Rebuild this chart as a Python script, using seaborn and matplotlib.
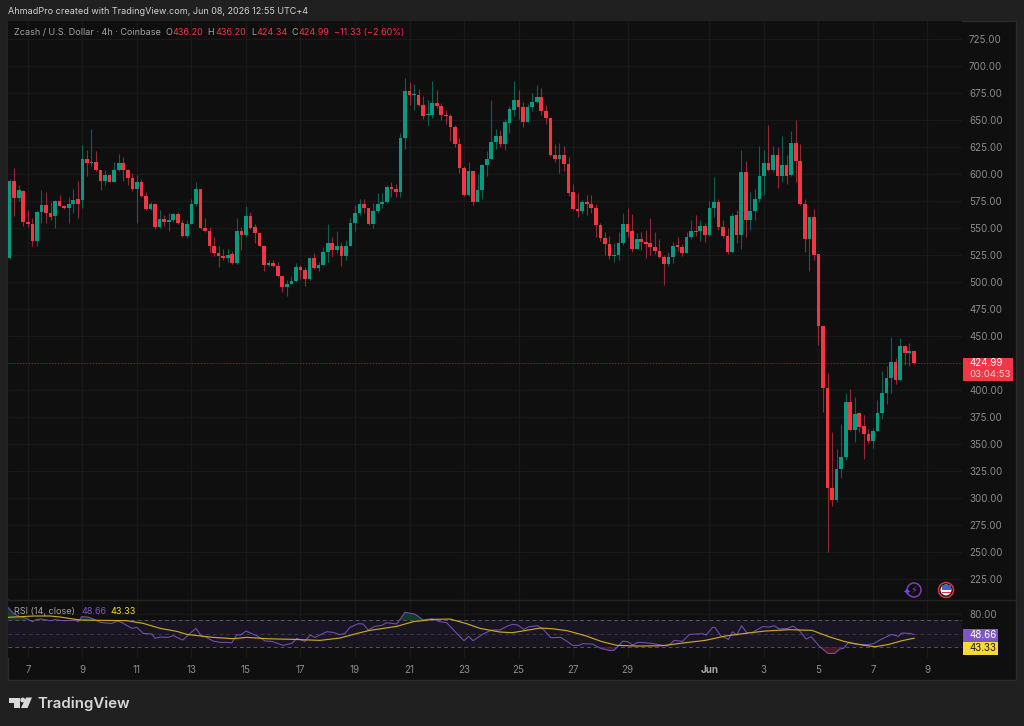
import pandas as pd
import matplotlib.pyplot as plt
from matplotlib.patches import Rectangle, Circle, Polygon
import seaborn as sns

opens = [522,594,578,584,556,554,538,565,571,564,
         561,575,570,569,572,577,576,614,610,611,
         604,594,599,593,604,610,604,596,586,593,
         580,568,572,551,558,556,557,563,555,543,
         554,572,586,550,547,533,527,524,522,526,
         518,547,544,561,551,545,533,516,518,515,
         506,495,498,501,514,511,503,522,513,516,
         528,536,530,533,524,533,555,564,572,569,
         554,566,572,574,588,586,583,633,677,673,
         673,664,655,655,666,663,655,654,644,628,
         606,581,603,574,585,608,614,630,635,628,
         647,659,669,662,648,662,667,671,658,652,
         618,614,618,609,583,568,566,574,572,569,
         553,541,535,524,525,536,554,547,531,540,
         537,536,532,529,523,517,523,534,532,527,
         542,547,547,552,544,569,574,551,543,528,
         562,544,602,557,566,577,598,610,604,618,
         598,608,599,629,612,572,540,560,526,459,
         402,309,298,327,338,389,363,379,367,359,
         353,362,379,397,411,426,409,441,434,436.2]
highs = [595,606,590,585,567,559,567,585,583,574,
         576,581,571,579,586,594,627,622,642,621,
         604,604,600,611,619,616,605,601,599,595,
         583,574,573,567,562,564,564,565,557,557,
         577,593,586,559,551,542,533,531,531,529,
         559,551,570,565,554,545,534,520,520,519,
         506,502,506,518,516,514,523,527,519,532,
         554,542,547,537,539,559,571,577,577,569,
         573,582,582,590,593,591,638,689,685,683,
         679,672,669,686,678,666,659,656,645,633,
         607,611,603,600,609,621,669,642,641,651,
         663,686,678,667,665,675,682,680,664,653,
         628,629,626,616,591,582,576,581,581,572,
         555,546,543,536,546,564,569,563,545,546,
         548,559,546,540,525,528,537,542,535,546,
         557,562,557,555,575,597,577,557,550,564,
         567,622,612,583,586,626,622,645,626,625,
         635,618,640,650,628,577,560,568,526,459,
         416,361,345,369,397,401,394,380,377,364,
         365,391,418,422,449,430,448,442,444,436.2]
lows = [521,561,575,552,551,533,533,555,555,557,
        550,570,568,555,564,559,569,598,607,603,
        585,590,593,593,603,594,590,584,555,579,
        567,567,549,550,552,547,556,554,542,541,
        554,570,549,546,528,524,514,520,519,517,
        517,530,542,549,536,533,510,515,514,505,
        491,487,498,500,503,496,502,512,510,516,
        519,523,527,515,520,533,547,562,564,553,
        550,564,569,573,579,579,579,623,664,659,
        663,651,645,652,661,650,646,631,625,601,
        580,580,571,574,577,598,614,623,625,622,
        638,654,651,644,648,658,666,655,646,617,
        611,601,603,580,567,560,563,562,564,542,
        538,525,521,519,520,534,542,528,531,530,
        522,525,526,522,497,515,518,529,524,527,
        540,543,538,537,543,560,548,541,526,527,
        536,531,542,548,557,574,581,603,602,587,
        593,591,598,593,571,528,510,520,442,380,
        250,293,296,319,335,362,352,361,336,351,
        346,362,373,387,397,406,408,423,422,424.34]
closes = [594,578,585,556,554,538,565,571,564,560,
          575,570,569,572,576,572,614,610,611,604,
          594,599,593,604,610,604,596,586,593,580,
          568,572,551,558,556,557,563,555,543,554,
          572,586,550,547,533,527,524,522,525,518,
          547,544,561,550,545,533,516,518,515,506,
          495,498,501,514,511,503,522,513,516,528,
          536,530,533,524,533,555,564,572,569,554,
          566,572,574,588,586,583,633,677,673,674,
          664,654,655,666,663,655,654,644,628,606,
          581,603,574,585,608,614,630,635,628,648,
          660,669,662,648,662,667,671,658,652,618,
          614,618,609,582,568,566,574,572,569,553,
          541,535,524,525,536,554,546,531,540,537,
          535,532,529,523,517,523,533,532,527,542,
          547,546,552,544,569,574,551,543,528,561,
          544,602,557,566,577,598,610,604,618,598,
          608,598,629,612,572,540,560,525,459,402,
          309,298,327,338,389,363,378,366,359,353,
          362,379,397,411,426,409,441,434,436,424.99]

rsi_bar = [-0.5,0.8,2.3,3.7,5,5.9,7,8.9,10,11.8,14.4,15.1,15.8,17.3,18.4,19.9,21.3,22.5,23.9,25,
           26.9,28,29.4,31.3,32,33.1,34.9,36,38.1,39.7,41,42.3,43,44.8,46.3,47.8,48.9,50,50.8,52,
           54.4,56.2,57.7,60.2,62.1,63.2,65,66.1,67.2,69.8,71.2,72.7,73.8,74.9,76.7,77.8,78.9,80.4,81.9,83,
           85.2,87,89.2,91,92.9,94.7,96.2,98.4,100,101,102,104.3,106.1,107.9,109.4,110.6,111.8,113.2,114.3,116.2,
           117.6,119.1,121.3,122.8,123.9,125.3,126.1,128.3,130.1,131.9,133,135,136,137.2,138.2,140,142.2,144.8,146.3,148.1,
           149.6,152.5,153.3,154.7,155.2,156.5,158.2,159.1,160,161.1,162.2,163.5,165.7,167.2,168.3,169.4,171.3,172.4,173.9,175.3,
           176.4,178.3,180.1,181.6,182.7,183.5,184.6,186,188.6,190.1,191.5,193,194.1,195.6,196.3,198.2,199]
rsi_val = [90.5,80.5,75.5,73,68,71.5,72,69.5,71,69.5,70,68,75.5,75,72,67,66,65.5,69,65.5,
           58,59.5,50.5,49.5,43,45,44.5,47,40.5,50.5,58,45.5,45.5,39,37,37,36.5,48.5,48,54,
           47,39,38.5,32.5,35.5,43,38.5,48,44.5,53,52,48.5,50.5,59.5,65,64.5,55.5,61,62.5,66.5,
           64.5,82,79.5,70.5,72.5,68,66.5,50.5,39.5,46,39.5,50,55.5,55.5,61,64,63,56.5,60.5,62,
           55.5,44,44.5,38,32.5,32.5,35,34.5,28,25,25,39,38,33,37,36.5,34.5,31.5,40,38.5,
           49,50,48,59.5,59.5,47,41.5,53,48,62,51.5,52,60.5,60,62,57,58,61.5,54,42,
           45.5,30.5,20.5,20.5,27,28,36.5,34.5,33.5,35,40.5,45.5,49,46,51,50.5,48.66]
sma_bar = [-0.5,5.2,8.9,11.1,15.5,19.9,25.8,29.4,33.1,36.8,39,44.8,49.2,52.2,56.6,62.4,68.3,72.7,77.1,79.3,
           85.2,88.8,93.3,96.9,100.6,103.5,107.9,110.6,114.2,116.8,119.4,122.7,126.7,130.4,133.7,138.4,143.6,148.7,153.1,157.5,
           161.9,166.3,171.5,176.6,180.3,183.9,187.6,190.5,193.5,196.4,199.1]
sma_val = [74.5,76.5,76.5,75,70.5,70,69.5,65.5,58,53.5,49,44.5,42.5,44.5,42.5,41.5,40,43.5,51.5,55,
           61,68,71.5,72,65,58,52.5,51.5,55.5,58.5,57.5,54.5,47,38,32.5,31.5,32,36.5,40,46.5,
           50.5,54,56,55,45.5,38,33,30.5,34,39.5,43.33]

price_ticks = list(range(225, 750, 25))
day_bars = [4,16,28,40,52,64,76,88,100,112,124,136,154,166,178,190,202]
day_labels = ['7','9','11','13','15','17','19','21','23','25','27','29','Jun','3','5','7','9']

BG = '#0f0f0f'
OUTER = '#202020'
GRID = '#191919'
UP = '#089981'
DOWN = '#f23645'
TXT = '#8c8c8c'
W, H = 1024, 726

sns.set_theme(style='dark', rc={'figure.facecolor': OUTER, 'axes.facecolor': BG})
plt.rcParams['font.family'] = ['Inter', 'DejaVu Sans']

df = pd.DataFrame({'open': opens, 'high': highs, 'low': lows, 'close': closes})
df['bar'] = df.index
df['up'] = df['close'] >= df['open']
df['base'] = df[['open', 'close']].min(axis=1)
df['body'] = (df['close'] - df['open']).abs().clip(lower=1.0)
df['color'] = df['up'].map({True: UP, False: DOWN})

fig = plt.figure(figsize=(W / 100, H / 100), dpi=100)


def px_axes(left, top, right, bottom):
    return fig.add_axes([left / W, 1 - bottom / H, (right - left) / W, (bottom - top) / H])


# frame behind everything, pixel coordinates
bg = fig.add_axes([0, 0, 1, 1], zorder=0)
bg.set_xlim(0, W)
bg.set_ylim(H, 0)
bg.axis('off')
bg.add_patch(Rectangle((7.5, 20.5), 1008.5, 659.5, fc=BG, ec='#2b2b2b', lw=1))

ax = px_axes(8, 21, 962, 599)
rsi = px_axes(8, 600, 962, 658)
for a in (ax, rsi):
    a.set_zorder(1)
    a.set_xlim(-0.37, 209.6)
    a.set_xticks(day_bars)
    a.grid(True, axis='x', color=GRID, lw=1)
    a.set_axisbelow(True)
    for s in a.spines.values():
        s.set_visible(False)
    a.tick_params(length=0)

# price pane
ax.set_ylim(206.5, 741.7)
ax.set_yticks(price_ticks)
ax.set_yticklabels([f'{p:.2f}' for p in price_ticks], color=TXT, fontsize=7.0)
ax.yaxis.tick_right()
ax.tick_params(axis='y', pad=5)
ax.tick_params(axis='x', labelbottom=False)
ax.grid(True, axis='y', color=GRID, lw=1)
ax.axhline(424.99, color=DOWN, lw=0.7, ls=(0, (1, 2)), alpha=0.5, zorder=1)
ax.vlines(df['bar'], df['low'], df['high'], colors=df['color'], lw=0.8, alpha=0.6, zorder=2)
ax.bar(df['bar'], df['body'], bottom=df['base'], width=0.8, color=df['color'], lw=0, zorder=3)

# rsi pane
rsi.set_ylim(13.6, 100.5)
rsi.set_yticks([80])
rsi.set_yticklabels(['80.00'], color=TXT, fontsize=7.0)
rsi.yaxis.tick_right()
rsi.tick_params(axis='y', pad=5)
rsi.grid(True, axis='y', color=GRID, lw=1)
rsi.axhline(40, color=GRID, lw=1, zorder=1)
rsi.axhspan(30, 70, color='#191522', lw=0, zorder=0.5)
for lvl, al in ((70, 0.5), (50, 0.25), (30, 0.5)):
    rsi.axhline(lvl, color='#9a9a9a', lw=0.7, ls=(0, (4, 3)), alpha=al, zorder=1)
# only the peaks of the overbought zone read as filled in the reference
rsi.fill_between(rsi_bar, 70, rsi_val, where=[v > 70 for v in rsi_val], interpolate=True,
                 color='#1f5c3a', alpha=0.55, lw=0, zorder=1.5)
rsi.fill_between(rsi_bar, 30, rsi_val, where=[v < 30 for v in rsi_val], interpolate=True,
                 color='#5c1f22', alpha=0.7, lw=0, zorder=1.5)
sns.lineplot(x=rsi_bar, y=rsi_val, color='#7352b5', lw=0.75, estimator=None, ax=rsi, zorder=2)
sns.lineplot(x=sma_bar, y=sma_val, color='#c9a722', lw=0.85, estimator=None, ax=rsi, zorder=3)
rsi.set_xticklabels(day_labels, color=TXT, fontsize=7.0)
rsi.tick_params(axis='x', pad=5)
rsi.get_xticklabels()[day_labels.index('Jun')].set_fontweight('bold')
rsi.get_xticklabels()[day_labels.index('Jun')].set_color('#a6a6a6')

# overlays on top, pixel coordinates
ov = fig.add_axes([0, 0, 1, 1], zorder=5)
ov.set_xlim(0, W)
ov.set_ylim(H, 0)
ov.axis('off')
ov.patch.set_alpha(0)
ov.axhline(599.5, xmin=8 / W, xmax=1016 / W, color='#262626', lw=1)


def label(x, y, s, color='#a3a3a3', size=6.5, **kw):
    ov.text(x, y, s, color=color, fontsize=size, va='center', ha=kw.pop('ha', 'left'), **kw)


label(8, 12, 'AhmadPro created with TradingView.com, Jun 08, 2026 12:55 UTC+4', '#d0d0d0', 6.5)
label(14, 32.5, 'Zcash / U.S. Dollar · 4h · Coinbase', '#a3a3a3')
for x, s, c in [(165, 'O', '#a3a3a3'), (172, '436.20', DOWN), (207, 'H', '#a3a3a3'), (215, '436.20', DOWN),
                (251, 'L', '#a3a3a3'), (256, '424.34', DOWN), (291, 'C', '#a3a3a3'), (298, '424.99', DOWN),
                (334, '−11.33 (−2.60%)', DOWN)]:
    label(x, 32.5, s, c)
label(14, 612, 'RSI (14, close)', '#a3a3a3')
label(81, 612, '48.66', '#7e57c2')
label(110.7, 612, '43.33', '#fdd835')

ov.add_patch(Rectangle((962.5, 357.5), 50, 23.5, fc=DOWN, lw=0))
label(969, 363.5, '424.99', 'white', 7.0)
label(969, 374.5, '03:04:53', '#ffd0d5', 6.9)
ov.add_patch(Rectangle((962.5, 628.5), 35.5, 13, fc='#7e57c2', lw=0))
ov.add_patch(Rectangle((962.5, 641.5), 35.5, 13, fc='#fdd835', lw=0))
label(969, 635, '48.66', 'white', 7.0)
label(969, 648, '43.33', '#1a1a1a', 7.0)

# small badges
ov.add_patch(Circle((914, 590), 7, fc='none', ec='#7b3fb0', lw=1.1))
ov.text(914, 590, '⚡', color='#7b3fb0', fontsize=7, ha='center', va='center', family='DejaVu Sans')
ov.text(906.5, 593, '✦', color='#6a4cff', fontsize=7, ha='center', va='center', family='DejaVu Sans')
ov.add_patch(Circle((946, 590), 7.5, fc='none', ec='#d8343f', lw=1.1))
ov.add_patch(Circle((946, 590), 5.5, fc='#f5f5f5', lw=0))
ov.add_patch(Rectangle((941.5, 585), 9, 4.5, fc='#3566c8', lw=0))
ov.add_patch(Rectangle((941.5, 591.5), 9, 1.4, fc='#d8343f', lw=0))

# footer logo
ov.add_patch(Polygon([(9, 697.5), (19.5, 697.5), (19.5, 708), (14, 708), (14, 702.5), (9, 702.5)], fc='#d9d9d9', lw=0))
ov.add_patch(Circle((22.7, 700), 2.4, fc='#d9d9d9', lw=0))
ov.add_patch(Polygon([(26, 697.5), (32, 697.5), (27.5, 708), (21, 708)], fc='#d9d9d9', lw=0))
label(37, 703.5, 'TradingView', '#d9d9d9', 10.8, fontweight='semibold')

fig.savefig('out.png', dpi=100, facecolor=OUTER)
